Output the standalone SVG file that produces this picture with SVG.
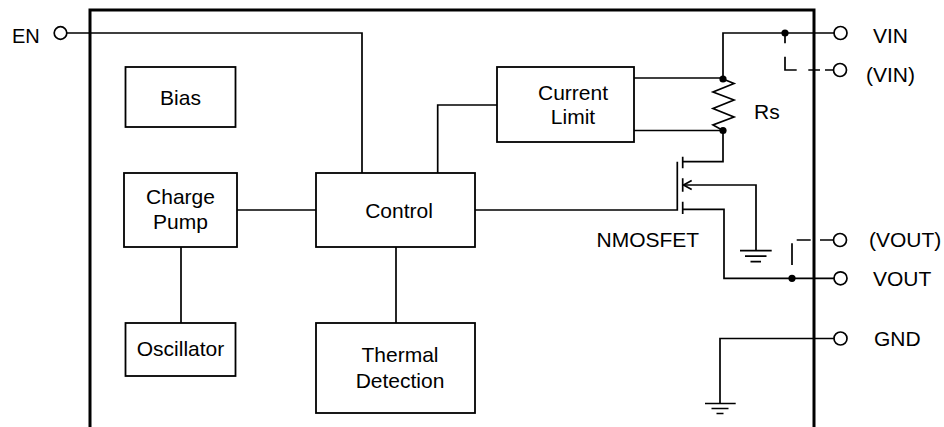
<svg xmlns="http://www.w3.org/2000/svg" width="944" height="427" viewBox="0 0 944 427">
<style>
  .box { fill: #fff; stroke: #000; stroke-width: 1.8; }
  .w { fill: none; stroke: #000; stroke-width: 1.7; }
  .pin { fill: #fff; stroke: #000; stroke-width: 1.7; }
  .dot { fill: #000; }
  .t { font-family: "Liberation Sans", Arial, sans-serif; font-size: 21px; fill: #000; }
  .c { text-anchor: middle; }
</style>
<rect width="944" height="427" fill="#fff"/>
<g id="chip-outline">
  <path d="M90,432 V10 H814 V432" fill="none" stroke="#000" stroke-width="3"/>
</g>
<g id="connectors">
  <path class="w" d="M67,33 H362 V173"/>
  <path class="w" d="M237,210 H316"/>
  <path class="w" d="M181,247 V323"/>
  <path class="w" d="M396,247 V323"/>
  <path class="w" d="M437.7,173 V105 H497"/>
  <path class="w" d="M634,78 H723"/>
  <path class="w" d="M634,130.5 H723"/>
  <path class="w" d="M834,33 H723 V79"/>
  <path class="w" d="M723,130.5 V161.7 H682.7"/>
  <path class="w" d="M475,210 H677.3 V161.7"/>
  <path class="w" d="M682.7,209.3 H724 V278.3 H834"/>
  <path class="w" d="M683.5,185 H756 V250.7"/>
  <path class="w" d="M834,338.5 H720 V403.5"/>
  <path class="w" d="M785,33 V43.3 M785,56.7 V70 H796.7 M808.3,70 H820 M825,70 H833.5"/>
  <path class="w" d="M792,243.3 V265 M796.7,240 H810.7 M820,240 H833.5"/>
  <circle class="dot" cx="785" cy="33" r="3.6"/>
  <circle class="dot" cx="723" cy="79" r="3.6"/>
  <circle class="dot" cx="723" cy="130.5" r="3.6"/>
  <circle class="dot" cx="792" cy="278.3" r="3.6"/>
</g>
<g id="bias">
  <rect class="box" x="125.5" y="67" width="110" height="60"/>
  <text class="t c" x="180.5" y="104.5">Bias</text>
</g>
<g id="charge-pump">
  <rect class="box" x="124" y="173" width="113" height="74"/>
  <text class="t c" x="180.5" y="204">Charge</text>
  <text class="t c" x="180.5" y="229">Pump</text>
</g>
<g id="control">
  <rect class="box" x="316" y="173" width="159" height="74"/>
  <text class="t c" x="399" y="218">Control</text>
</g>
<g id="current-limit">
  <rect class="box" x="497" y="67" width="137" height="75"/>
  <text class="t c" x="573" y="100">Current</text>
  <text class="t c" x="573" y="123.5">Limit</text>
</g>
<g id="oscillator">
  <rect class="box" x="125.5" y="323" width="110" height="53"/>
  <text class="t c" x="180.5" y="356">Oscillator</text>
</g>
<g id="thermal-detection">
  <rect class="box" x="316" y="323" width="159" height="90"/>
  <text class="t c" x="400" y="362">Thermal</text>
  <text class="t c" x="400" y="388">Detection</text>
</g>
<g id="rs">
  <polyline class="w" points="723,79 734,83.5 713,92 734,100 713,108.5 734,117 713,125 723,130.5"/>
  <text class="t" x="754" y="118.5">Rs</text>
</g>
<g id="nmosfet">
  <path class="w" d="M682.7,156.7 V168.3 M682.7,178.3 V191.7 M682.7,201.7 V214"/>
  <polyline class="w" points="691.7,180.5 683.5,185 691.7,189.5"/>
  <path class="w" d="M740,250.7 H771.7 M745,256.2 H766.5 M750.5,261.7 H761"/>
  <text class="t" x="596.5" y="246.5">NMOSFET</text>
</g>
<g id="gnd-ground">
  <path class="w" d="M705,403.5 H735.7 M711.5,408.5 H728.5 M716.5,413.5 H723.5"/>
</g>
<g id="pin-en">
  <circle class="pin" cx="60.5" cy="33" r="6.3"/>
  <text class="t" x="12" y="43.3" style="font-size:20px">EN</text>
</g>
<g id="pin-vin">
  <circle class="pin" cx="840.5" cy="33" r="6.5"/>
  <text class="t" x="873" y="43.3">VIN</text>
</g>
<g id="pin-vin-alt">
  <circle class="pin" cx="840" cy="70" r="6.5"/>
  <text class="t" x="866" y="81.5">(VIN)</text>
</g>
<g id="pin-vout-alt">
  <circle class="pin" cx="840" cy="240" r="6.5"/>
  <text class="t" x="869" y="247">(VOUT)</text>
</g>
<g id="pin-vout">
  <circle class="pin" cx="840.5" cy="278.3" r="6.5"/>
  <text class="t" x="873" y="285.5">VOUT</text>
</g>
<g id="pin-gnd">
  <circle class="pin" cx="840.5" cy="338.5" r="6.5"/>
  <text class="t" x="874" y="345.5">GND</text>
</g>
</svg>
